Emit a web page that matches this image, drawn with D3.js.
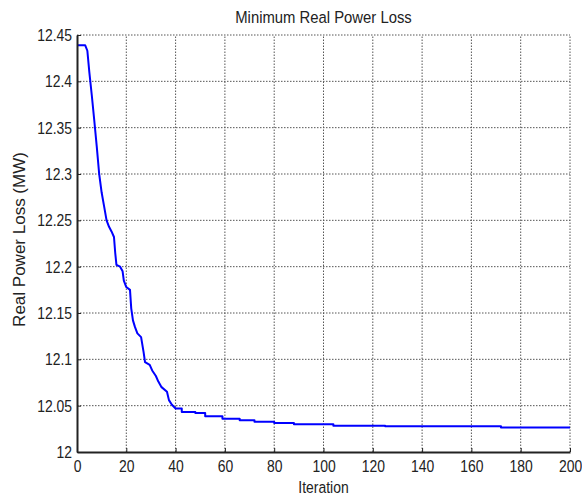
<!DOCTYPE html>
<html>
<head>
<meta charset="utf-8">
<script src="https://cdn.jsdelivr.net/npm/d3@7"></script>
<style>
    body { margin: 0; background: #fff; }
    text { font-family: "Liberation Sans", Arial, sans-serif; fill: #222; }
    .grid line { stroke: #555; stroke-width: 1; stroke-dasharray: 1.5,1.5; }
    .axis path, .axis line { stroke: #222; }
</style>
</head>
<body>
<div id="chart"></div>
<script>
// iteration numbers where the loss changes
var iterations = [0, 3.3, 4.2, 5, 6, 7, 8, 9, 10, 11, 12, 13, 14, 15, 15.5, 16, 17.5, 18.5, 19, 20,
    21.5, 22, 22.7, 23.5, 24.5, 26, 27, 27.6, 29.5, 30.5, 32, 33, 34.3, 36.5, 37.3, 38.5, 40,
    42.5, 48, 52, 59, 66, 72, 80, 88, 104, 125, 172, 200];
// minimum real power loss (MW) at those iterations
var losses = [12.439, 12.439, 12.433, 12.41, 12.385, 12.358, 12.33, 12.3, 12.28, 12.265, 12.25, 12.243, 12.238, 12.232, 12.215, 12.202, 12.2, 12.195, 12.185, 12.178,
    12.175, 12.155, 12.142, 12.135, 12.128, 12.124, 12.108, 12.097, 12.094, 12.088, 12.082, 12.076, 12.07, 12.065, 12.056, 12.051, 12.047,
    12.0432, 12.0421, 12.0385, 12.0359, 12.0342, 12.0327, 12.0313, 12.0299, 12.0284, 12.0278, 12.0264, 12.0264];
// after this iteration the curve is drawn as flat steps
var stepFrom = 41;

var xTicks = [0, 20, 40, 60, 80, 100, 120, 140, 160, 180, 200];
var yTicks = [12, 12.05, 12.1, 12.15, 12.2, 12.25, 12.3, 12.35, 12.4, 12.45];

var width = 582, height = 496;
var margin = {top: 35, right: 12, bottom: 44, left: 77};
var squeeze = 0.82; // the original uses a narrow face

var svg = d3.select("#chart").append("svg")
    .attr("width", width)
    .attr("height", height);

var x = d3.scaleLinear().domain([0, 200]).range([margin.left, width - margin.right]);
var y = d3.scaleLinear().domain([12, 12.45]).range([height - margin.bottom, margin.top]);

// grid lines (also closes the box at top and right)
var grid = svg.append("g").attr("class", "grid");
grid.selectAll(".vgrid")
    .data(xTicks.slice(1))
    .enter().append("line")
    .attr("x1", function (d) { return x(d); })
    .attr("x2", function (d) { return x(d); })
    .attr("y1", y(12))
    .attr("y2", y(12.45));
grid.selectAll(".hgrid")
    .data(yTicks.slice(1))
    .enter().append("line")
    .attr("x1", x(0))
    .attr("x2", x(200))
    .attr("y1", function (d) { return y(d); })
    .attr("y2", function (d) { return y(d); });

// build the line points; tail is drawn as steps
var pts = [];
for (var i = 0; i < iterations.length; i++) {
    if (i > 0 && iterations[i] > stepFrom) {
        pts.push([iterations[i], losses[i - 1]]);
    }
    pts.push([iterations[i], losses[i]]);
}

var valueline = d3.line()
    .x(function (d) { return x(d[0]); })
    .y(function (d) { return y(d[1]); });

svg.append("path")
    .datum(pts)
    .attr("fill", "none")
    .attr("stroke", "#0000ff")
    .attr("stroke-width", 2)
    .attr("stroke-linejoin", "round")
    .attr("d", valueline);

// axes
svg.append("g")
    .attr("class", "axis")
    .attr("transform", "translate(0," + y(12) + ")")
    .call(d3.axisBottom(x).tickValues(xTicks).tickSizeInner(-4).tickSizeOuter(0).tickPadding(8))
    .call(function (g) {
        g.select(".domain").attr("stroke-width", 2);
        g.selectAll("text")
            .style("font-size", "17px")
            .attr("fill", "#222")
            .attr("transform", "scale(" + squeeze + ",1)");
    });

svg.append("g")
    .attr("class", "axis")
    .attr("transform", "translate(" + x(0) + ",0)")
    .call(d3.axisLeft(y).tickValues(yTicks).tickFormat(d3.format("")).tickSizeInner(-4).tickSizeOuter(0).tickPadding(6))
    .call(function (g) {
        g.select(".domain").attr("stroke-width", 2);
        g.selectAll("text")
            .style("font-size", "17px")
            .attr("fill", "#222")
            .attr("transform", "scale(" + squeeze + ",1)");
    });

// title
var cx = (x(0) + x(200)) / 2;
svg.append("text")
    .attr("transform", "translate(" + cx + ",23) scale(0.9,1)")
    .style("text-anchor", "middle")
    .style("font-size", "16.5px")
    .text("Minimum Real Power Loss");

// x label
svg.append("text")
    .attr("transform", "translate(" + cx + ",493) scale(" + squeeze + ",1)")
    .style("text-anchor", "middle")
    .style("font-size", "17px")
    .text("Iteration");

// y label
svg.append("text")
    .attr("transform", "translate(25," + ((y(12) + y(12.45)) / 2 - 4) + ") rotate(-90)")
    .style("text-anchor", "middle")
    .style("font-size", "17px")
    .text("Real Power Loss (MW)");
</script>
</body>
</html>
